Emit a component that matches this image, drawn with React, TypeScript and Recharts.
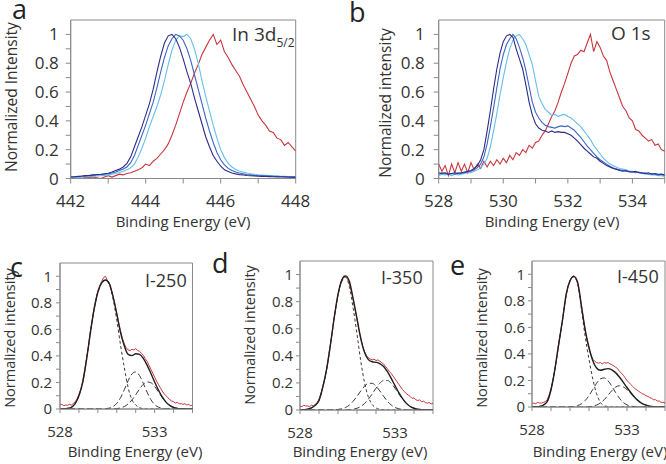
import React from 'react';
import { LineChart, Line, XAxis, YAxis, ReferenceArea } from 'recharts';

const W = 666;
const H = 464;
const FONT = '"Open Sans", "Noto Sans", sans-serif';
const TEXT = '#333';
const AXIS = '#8a8a8a';

// panel a: In 3d5/2, binding energy grid (eV)
const inEnergy = [
  442.0, 442.1, 442.2, 442.3, 442.4, 442.5, 442.6, 442.7, 442.8, 442.9,
  443.0, 443.1, 443.2, 443.3, 443.4, 443.5, 443.6, 443.7, 443.8, 443.9,
  444.0, 444.1, 444.2, 444.3, 444.4, 444.5, 444.6, 444.7, 444.8, 444.9,
  445.0, 445.1, 445.2, 445.3, 445.4, 445.5, 445.6, 445.7, 445.8, 445.9,
  446.0, 446.1, 446.2, 446.3, 446.4, 446.5, 446.6, 446.7, 446.8, 446.9,
  447.0, 447.1, 447.2, 447.3, 447.4, 447.5, 447.6, 447.7, 447.8, 447.9,
  448.0,
];
const inNavy = [
  0.01, 0.012, 0.015, 0.017, 0.02, 0.022, 0.025, 0.028, 0.03, 0.033,
  0.037, 0.045, 0.055, 0.065, 0.08, 0.105, 0.15, 0.22, 0.29, 0.36,
  0.44, 0.52, 0.62, 0.74, 0.85, 0.94, 0.99, 1.0, 0.97, 0.91,
  0.83, 0.74, 0.66, 0.56, 0.47, 0.38, 0.29, 0.22, 0.16, 0.12,
  0.085, 0.06, 0.048, 0.038, 0.032, 0.027, 0.024, 0.021, 0.019, 0.017,
  0.016, 0.015, 0.014, 0.013, 0.012, 0.011, 0.01, 0.01, 0.009, 0.009,
  0.008,
];
const inBlue = [
  0.012, 0.012, 0.014, 0.016, 0.018, 0.02, 0.022, 0.024, 0.027, 0.03,
  0.033, 0.038, 0.045, 0.055, 0.066, 0.08, 0.11, 0.16, 0.23, 0.3,
  0.37, 0.45, 0.53, 0.63, 0.74, 0.84, 0.92, 0.97, 1.0, 0.99,
  0.96, 0.9, 0.82, 0.72, 0.62, 0.52, 0.42, 0.33, 0.25, 0.18,
  0.13, 0.095, 0.07, 0.055, 0.045, 0.038, 0.032, 0.028, 0.025, 0.022,
  0.02, 0.019, 0.018, 0.017, 0.016, 0.015, 0.014, 0.013, 0.012, 0.011,
  0.01,
];
const inSky = [
  0.005, 0.007, 0.008, 0.01, 0.012, 0.013, 0.015, 0.017, 0.019, 0.022,
  0.025, 0.03, 0.035, 0.042, 0.05, 0.06, 0.075, 0.1, 0.15, 0.21,
  0.28, 0.36, 0.43, 0.5, 0.58, 0.68, 0.79, 0.89, 0.96, 0.99,
  0.985, 1.0, 0.97, 0.9, 0.8, 0.68, 0.57, 0.47, 0.37, 0.28,
  0.2, 0.145, 0.105, 0.08, 0.063, 0.052, 0.044, 0.038, 0.033, 0.029,
  0.026, 0.024, 0.022, 0.02, 0.018, 0.017, 0.016, 0.015, 0.014, 0.013,
  0.012,
];
const inRed = [
  0.01, 0.005, 0.01, 0.0, 0.01, 0.005, 0.01, 0.005, 0.0, 0.01,
  0.02, 0.01, 0.02, 0.03, 0.025, 0.035, 0.04, 0.05, 0.06, 0.075,
  0.1, 0.09, 0.12, 0.14, 0.17, 0.2, 0.24, 0.3, 0.37, 0.45,
  0.53, 0.6, 0.66, 0.73, 0.79, 0.86, 0.91, 0.96, 1.0, 0.93,
  0.96, 0.88, 0.84, 0.79, 0.75, 0.71, 0.65, 0.6, 0.55, 0.5,
  0.44, 0.4, 0.37, 0.33, 0.32, 0.28, 0.27, 0.23, 0.25, 0.22,
  0.19,
];

// O 1s grid (panel b and raw scans in c-e)
const oEnergy = [
  528.0, 528.1, 528.2, 528.3, 528.4, 528.5, 528.6, 528.7, 528.8, 528.9,
  529.0, 529.1, 529.2, 529.3, 529.4, 529.5, 529.6, 529.7, 529.8, 529.9,
  530.0, 530.1, 530.2, 530.3, 530.4, 530.5, 530.6, 530.7, 530.8, 530.9,
  531.0, 531.1, 531.2, 531.3, 531.4, 531.5, 531.6, 531.7, 531.8, 531.9,
  532.0, 532.1, 532.2, 532.3, 532.4, 532.5, 532.6, 532.7, 532.8, 532.9,
  533.0, 533.1, 533.2, 533.3, 533.4, 533.5, 533.6, 533.7, 533.8, 533.9,
  534.0, 534.1, 534.2, 534.3, 534.4, 534.5, 534.6, 534.7, 534.8, 534.9,
  535.0,
];
const oNavy = [
  0.04, 0.035, 0.04, 0.03, 0.035, 0.04, 0.035, 0.04, 0.045, 0.05,
  0.055, 0.07, 0.09, 0.13, 0.2, 0.33, 0.47, 0.62, 0.76, 0.87,
  0.95, 0.99, 1.0, 0.98, 0.9, 0.83, 0.76, 0.65, 0.53, 0.44,
  0.38, 0.35, 0.335, 0.33, 0.32, 0.33, 0.32, 0.325, 0.32, 0.32,
  0.31, 0.3, 0.28, 0.26, 0.235, 0.21, 0.19, 0.17, 0.15, 0.14,
  0.12, 0.105, 0.09, 0.08, 0.07, 0.065, 0.055, 0.05, 0.055, 0.045,
  0.045, 0.05, 0.04, 0.04, 0.035, 0.04, 0.03, 0.035, 0.03, 0.03,
  0.025,
];
const oBlue = [
  0.03, 0.04, 0.035, 0.03, 0.035, 0.03, 0.04, 0.035, 0.04, 0.045,
  0.05, 0.06, 0.075, 0.1, 0.15, 0.24, 0.36, 0.49, 0.63, 0.76,
  0.86, 0.93, 0.97, 1.0, 0.97, 0.91, 0.84, 0.75, 0.64, 0.53,
  0.46, 0.42, 0.39, 0.37, 0.36, 0.355, 0.35, 0.36, 0.365, 0.36,
  0.365, 0.35, 0.335, 0.31, 0.285, 0.255, 0.225, 0.2, 0.175, 0.15,
  0.13, 0.115, 0.1, 0.085, 0.075, 0.065, 0.06, 0.055, 0.05, 0.05,
  0.045, 0.04, 0.045, 0.035, 0.04, 0.03, 0.035, 0.03, 0.025, 0.03,
  0.02,
];
const oSky = [
  0.02, 0.03, 0.025, 0.03, 0.02, 0.03, 0.025, 0.03, 0.035, 0.04,
  0.04, 0.05, 0.06, 0.075, 0.1, 0.14, 0.22, 0.33, 0.45, 0.58,
  0.7, 0.81, 0.9, 0.96, 0.99, 1.0, 0.97, 0.93, 0.86, 0.79,
  0.68, 0.57, 0.52, 0.48, 0.46, 0.44, 0.445, 0.43, 0.44, 0.445,
  0.43, 0.42, 0.4, 0.38, 0.36, 0.33, 0.3, 0.27, 0.23, 0.2,
  0.17, 0.14, 0.12, 0.1, 0.09, 0.08, 0.07, 0.065, 0.06, 0.05,
  0.05, 0.045, 0.04, 0.035, 0.03, 0.03, 0.025, 0.025, 0.02, 0.02,
  0.015,
];
const oRed = [
  0.1, 0.05, 0.09, 0.02, 0.1, 0.04, 0.11, 0.05, 0.1, 0.04,
  0.11, 0.06, 0.1, 0.07, 0.12, 0.08, 0.12, 0.09, 0.13, 0.1,
  0.14, 0.11, 0.16, 0.13, 0.18, 0.16, 0.2, 0.18, 0.23, 0.21,
  0.25, 0.26, 0.3, 0.33, 0.38, 0.43, 0.47, 0.53, 0.6, 0.66,
  0.73, 0.8, 0.85, 0.86, 0.89, 0.88, 0.94, 1.0, 0.88, 0.95,
  0.91, 0.85, 0.82, 0.74, 0.68, 0.62, 0.56, 0.5, 0.47, 0.42,
  0.4, 0.34, 0.33, 0.3, 0.28, 0.26, 0.27, 0.23, 0.24, 0.2,
  0.19,
];

// raw O 1s scans for I-250 / I-350 / I-450
const raw250 = [
  0.03, 0.035, 0.025, 0.03, 0.028, 0.035, 0.03, 0.04, 0.055, 0.075,
  0.11, 0.15, 0.21, 0.29, 0.38, 0.47, 0.58, 0.67, 0.76, 0.83,
  0.89, 0.93, 0.96, 0.99, 1.0, 0.97, 0.95, 0.9, 0.85, 0.79,
  0.72, 0.65, 0.59, 0.53, 0.49, 0.46, 0.445, 0.44, 0.45, 0.445,
  0.455, 0.44, 0.435, 0.42, 0.405, 0.38, 0.36, 0.33, 0.3, 0.27,
  0.24, 0.21, 0.185, 0.16, 0.135, 0.115, 0.1, 0.085, 0.07, 0.06,
  0.055, 0.045, 0.05, 0.04, 0.04, 0.035, 0.04, 0.03, 0.035, 0.025,
  0.03,
];
const raw350 = [
  0.03, 0.025, 0.035, 0.03, 0.03, 0.025, 0.035, 0.03, 0.04, 0.055,
  0.08, 0.12, 0.17, 0.23, 0.3, 0.39, 0.48, 0.58, 0.68, 0.77,
  0.85, 0.91, 0.96, 0.99, 0.985, 0.97, 0.93, 0.88, 0.81, 0.74,
  0.67, 0.59, 0.53, 0.47, 0.43, 0.4, 0.385, 0.375, 0.37, 0.375,
  0.365, 0.37, 0.36, 0.35, 0.34, 0.32, 0.305, 0.285, 0.27, 0.25,
  0.23, 0.21, 0.19, 0.17, 0.15, 0.135, 0.12, 0.11, 0.1, 0.085,
  0.09, 0.075, 0.07, 0.075, 0.06, 0.065, 0.055, 0.05, 0.055, 0.045,
  0.05,
];
const raw450 = [
  0.025, 0.03, 0.025, 0.035, 0.03, 0.03, 0.035, 0.04, 0.055, 0.09,
  0.14, 0.2, 0.28, 0.37, 0.46, 0.56, 0.65, 0.75, 0.84, 0.91,
  0.95, 0.98, 0.99, 0.97, 0.93, 0.85, 0.76, 0.67, 0.58, 0.5,
  0.44, 0.39, 0.36, 0.345, 0.335, 0.33, 0.335, 0.325, 0.335, 0.33,
  0.335, 0.325, 0.32, 0.31, 0.3, 0.29, 0.27, 0.255, 0.24, 0.22,
  0.2, 0.185, 0.17, 0.155, 0.14, 0.13, 0.12, 0.11, 0.1, 0.095,
  0.085, 0.08, 0.07, 0.065, 0.055, 0.055, 0.045, 0.045, 0.035, 0.035,
  0.03,
];

// fitted envelope and components (coarser grid)
const fitEnergy = [
  528.0, 528.2, 528.4, 528.6, 528.8, 529.0, 529.2, 529.4, 529.6, 529.8,
  530.0, 530.2, 530.4, 530.6, 530.8, 531.0, 531.2, 531.4, 531.6, 531.8,
  532.0, 532.2, 532.4, 532.6, 532.8, 533.0, 533.2, 533.4, 533.6, 533.8,
  534.0, 534.2, 534.4, 534.6, 534.8, 535.0,
];
const fit250 = [
  0, 0.002, 0.005, 0.012, 0.04, 0.1, 0.2, 0.37, 0.57, 0.75,
  0.88, 0.95, 0.972, 0.947, 0.849, 0.716, 0.573, 0.475, 0.411, 0.402,
  0.416, 0.412, 0.382, 0.331, 0.269, 0.204, 0.143, 0.091, 0.052, 0.027,
  0.012, 0.005, 0.002, 0, 0, 0,
];
const lattice250 = [
  0, 0.002, 0.005, 0.012, 0.04, 0.1, 0.2, 0.37, 0.57, 0.75,
  0.88, 0.95, 0.97, 0.94, 0.83, 0.67, 0.48, 0.31, 0.16, 0.07,
  0.03, 0.01, 0.003, 0, 0, 0, 0, 0, 0, 0,
  0, 0, 0, 0, 0, 0,
];
const vacancy250 = [
  0, 0, 0, 0, 0, 0, 0, 0, 0, 0,
  0, 0, 0.002, 0.007, 0.018, 0.043, 0.085, 0.146, 0.213, 0.264,
  0.279, 0.252, 0.193, 0.127, 0.071, 0.034, 0.014, 0.005, 0.001, 0,
  0, 0, 0, 0, 0, 0,
];
const hydroxyl250 = [
  0, 0, 0, 0, 0, 0, 0, 0, 0, 0,
  0, 0, 0, 0, 0.001, 0.003, 0.008, 0.019, 0.038, 0.068,
  0.107, 0.15, 0.186, 0.204, 0.198, 0.17, 0.129, 0.086, 0.051, 0.027,
  0.012, 0.005, 0.002, 0, 0, 0,
];
const fit350 = [
  0, 0.002, 0.006, 0.015, 0.035, 0.07, 0.17, 0.3, 0.48, 0.681,
  0.854, 0.959, 0.99, 0.949, 0.82, 0.674, 0.527, 0.424, 0.372, 0.356,
  0.352, 0.343, 0.321, 0.283, 0.234, 0.18, 0.128, 0.084, 0.049, 0.026,
  0.013, 0.006, 0.002, 0, 0, 0,
];
const lattice350 = [
  0, 0.002, 0.006, 0.015, 0.035, 0.07, 0.17, 0.3, 0.48, 0.68,
  0.85, 0.95, 0.98, 0.91, 0.75, 0.56, 0.36, 0.2, 0.095, 0.04,
  0.015, 0.005, 0.002, 0, 0, 0, 0, 0, 0, 0,
  0, 0, 0, 0, 0, 0,
];
const vacancy350 = [
  0, 0, 0, 0, 0, 0, 0, 0, 0, 0.001,
  0.004, 0.009, 0.019, 0.037, 0.065, 0.101, 0.141, 0.176, 0.197, 0.197,
  0.176, 0.141, 0.101, 0.065, 0.037, 0.019, 0.009, 0.004, 0.001, 0,
  0, 0, 0, 0, 0, 0,
];
const hydroxyl350 = [
  0, 0, 0, 0, 0, 0, 0, 0, 0, 0,
  0, 0, 0, 0.002, 0.005, 0.013, 0.026, 0.048, 0.08, 0.119,
  0.161, 0.197, 0.218, 0.218, 0.197, 0.161, 0.119, 0.08, 0.048, 0.026,
  0.013, 0.006, 0.002, 0, 0, 0,
];
const fit450 = [
  0, 0.002, 0.005, 0.015, 0.04, 0.13, 0.28, 0.47, 0.65, 0.85,
  0.951, 0.984, 0.941, 0.764, 0.579, 0.448, 0.349, 0.294, 0.277, 0.284,
  0.289, 0.28, 0.259, 0.226, 0.187, 0.147, 0.109, 0.074, 0.046, 0.026,
  0.014, 0.007, 0.003, 0.001, 0, 0,
];
const lattice450 = [
  0, 0.002, 0.005, 0.015, 0.04, 0.13, 0.28, 0.47, 0.65, 0.85,
  0.95, 0.98, 0.93, 0.74, 0.53, 0.36, 0.21, 0.1, 0.035, 0.01,
  0.003, 0, 0, 0, 0, 0, 0, 0, 0, 0,
  0, 0, 0, 0, 0, 0,
];
const vacancy450 = [
  0, 0, 0, 0, 0, 0, 0, 0, 0, 0,
  0.001, 0.004, 0.011, 0.024, 0.049, 0.086, 0.133, 0.179, 0.212, 0.219,
  0.198, 0.157, 0.109, 0.066, 0.035, 0.016, 0.007, 0.002, 0, 0,
  0, 0, 0, 0, 0, 0,
];
const hydroxyl450 = [
  0, 0, 0, 0, 0, 0, 0, 0, 0, 0,
  0, 0, 0, 0, 0, 0.002, 0.006, 0.015, 0.03, 0.055,
  0.088, 0.123, 0.15, 0.16, 0.152, 0.131, 0.102, 0.072, 0.046, 0.026,
  0.014, 0.007, 0.003, 0.001, 0, 0,
];

// axis ticks
const normTicks = [0, 0.1, 0.2, 0.3, 0.4, 0.5, 0.6, 0.7, 0.8, 0.9, 1.0];
const inTicks = [442, 443, 444, 445, 446, 447, 448];
const inTickLabels = [442, 444, 446, 448];
const oTicks = [528, 529, 530, 531, 532, 533, 534, 535];
const oTickLabels = [528, 530, 532, 534];
const fitTickLabels = [528, 533];

const NAVY = '#2d2b88';
const BLUE = '#3d66c2';
const SKY = '#66bfea';
const RED = '#c9363d';
const FIT = '#1f1f1f';
const COMP = '#3a3a3a';

type Row = { x: number; y: number };
const toRows = (xs: number[], ys: number[]): Row[] =>
  xs.map((x, i) => ({ x, y: ys[i] }));

const normLabel = (v: number) => {
  const t = Math.round(v * 10);
  if (t % 2 !== 0) return '';
  if (t === 0) return '0';
  if (t === 10) return '1';
  return (t / 10).toFixed(1);
};

interface Series {
  xs: number[];
  ys: number[];
  color: string;
  width: number;
  dash?: string;
  smooth?: boolean;
}

interface PanelProps {
  box: { left: number; top: number; right: number; bottom: number };
  xDomain: [number, number];
  xTicks: number[];
  xLabels: number[];
  series: Series[];
  fontSize: number;
  tickLen: number;
  xGap: number;
  yGap: number;
}

const Panel: React.FC<PanelProps> = ({ box, xDomain, xTicks, xLabels, series, fontSize, tickLen, xGap, yGap }) => {
  const yW = 40;
  const xH = 30;
  const margin = {
    top: box.top,
    left: box.left - yW,
    right: W - box.right,
    bottom: H - box.bottom - xH,
  };
  return (
    <div style={{ position: 'absolute', left: 0, top: 0 }}>
      <LineChart width={W} height={H} margin={margin}>
        <XAxis
          type="number"
          dataKey="x"
          domain={xDomain}
          ticks={xTicks}
          interval={0}
          allowDataOverflow
          height={xH}
          tickSize={tickLen}
          tickMargin={xGap}
          stroke={AXIS}
          tick={{ fill: TEXT, fontSize }}
          tickFormatter={(v: number) => (xLabels.includes(v) ? String(v) : '')}
        />
        <YAxis
          type="number"
          domain={[0, 1.1]}
          ticks={normTicks}
          interval={0}
          allowDataOverflow
          width={yW}
          tickSize={tickLen}
          tickMargin={yGap}
          stroke={AXIS}
          tick={{ fill: TEXT, fontSize }}
          tickFormatter={normLabel}
        />
        <ReferenceArea
          x1={xDomain[0]}
          x2={xDomain[1]}
          y1={0}
          y2={1.1}
          fill="none"
          stroke={AXIS}
          strokeWidth={1}
        />
        {series.map((s, i) => (
          <Line
            key={i}
            data={toRows(s.xs, s.ys)}
            dataKey="y"
            type={s.smooth ? 'monotone' : 'linear'}
            stroke={s.color}
            strokeWidth={s.width}
            strokeDasharray={s.dash}
            dot={false}
            activeDot={false}
            isAnimationActive={false}
          />
        ))}
      </LineChart>
    </div>
  );
};

const fitSeries = (raw: number[], fit: number[], c1: number[], c2: number[], c3: number[]): Series[] => [
  { xs: fitEnergy, ys: c1, color: COMP, width: 1, dash: '3 2.5', smooth: true },
  { xs: fitEnergy, ys: c2, color: COMP, width: 1, dash: '6 3', smooth: true },
  { xs: fitEnergy, ys: c3, color: COMP, width: 1, dash: '6 3', smooth: true },
  { xs: oEnergy, ys: raw, color: RED, width: 1 },
  { xs: fitEnergy, ys: fit, color: FIT, width: 1.4, smooth: true },
];

const topSeries = (xs: number[], navy: number[], blue: number[], sky: number[], red: number[]): Series[] => [
  { xs, ys: red, color: RED, width: 1.1 },
  { xs, ys: sky, color: SKY, width: 1.1 },
  { xs, ys: blue, color: BLUE, width: 1.1 },
  { xs, ys: navy, color: NAVY, width: 1.1 },
];

const YTitle: React.FC<{ x: number; y: number; size: number; text: string }> = ({ x, y, size, text }) => (
  <text transform={`translate(${x},${y}) rotate(-90)`} textAnchor="middle" fontSize={size} fill={TEXT}>
    {text}
  </text>
);

// panel letters at the very top edge: html boxes with a tight line height
const TopLetter: React.FC<{ x: number; lineH: number; text: string }> = ({ x, lineH, text }) => (
  <div
    style={{
      position: 'absolute',
      left: x,
      top: 0,
      height: lineH,
      lineHeight: `${lineH}px`,
      fontSize: 27,
      color: '#222',
      fontFamily: FONT,
      pointerEvents: 'none',
    }}
  >
    {text}
  </div>
);

export default function App() {
  return (
    <div
      style={{
        position: 'absolute',
        left: 0,
        top: 0,
        width: W,
        height: H,
        background: '#fff',
        fontFamily: FONT,
        overflow: 'hidden',
      }}
    >
      <Panel
        box={{ left: 70.7, top: 20, right: 295.7, bottom: 178.5 }}
        xDomain={[442, 448]}
        xTicks={inTicks}
        xLabels={inTickLabels}
        series={topSeries(inEnergy, inNavy, inBlue, inSky, inRed)}
        fontSize={17}
        tickLen={5}
        xGap={11}
        yGap={7}
      />
      <Panel
        box={{ left: 438.7, top: 20, right: 664.7, bottom: 178.5 }}
        xDomain={[528, 535]}
        xTicks={oTicks}
        xLabels={oTickLabels}
        series={topSeries(oEnergy, oNavy, oBlue, oSky, oRed)}
        fontSize={17}
        tickLen={5}
        xGap={11}
        yGap={9}
      />
      <Panel
        box={{ left: 60, top: 263, right: 192.5, bottom: 409 }}
        xDomain={[528, 535]}
        xTicks={oTicks}
        xLabels={fitTickLabels}
        series={fitSeries(raw250, fit250, lattice250, vacancy250, hydroxyl250)}
        fontSize={15}
        tickLen={4}
        xGap={13}
        yGap={4}
      />
      <Panel
        box={{ left: 300, top: 261, right: 433, bottom: 410 }}
        xDomain={[528, 535]}
        xTicks={oTicks}
        xLabels={fitTickLabels}
        series={fitSeries(raw350, fit350, lattice350, vacancy350, hydroxyl350)}
        fontSize={15}
        tickLen={4}
        xGap={13}
        yGap={3}
      />
      <Panel
        box={{ left: 532, top: 261, right: 665, bottom: 407 }}
        xDomain={[528, 535]}
        xTicks={oTicks}
        xLabels={fitTickLabels}
        series={fitSeries(raw450, fit450, lattice450, vacancy450, hydroxyl450)}
        fontSize={15}
        tickLen={4}
        xGap={13}
        yGap={3}
      />
      <TopLetter x={12} lineH={17} text="a" />
      <TopLetter x={349} lineH={23} text="b" />
      <svg
        width={W}
        height={H}
        style={{ position: 'absolute', left: 0, top: 0, pointerEvents: 'none', fontFamily: FONT }}
      >
        <text x={10} y={277} fontSize={27} fill="#222">c</text>
        <text x={212} y={273} fontSize={27} fill="#222">d</text>
        <text x={450} y={275} fontSize={27} fill="#222">e</text>

        <text x={232} y={41} fontSize={19} fill={TEXT}>
          In 3d<tspan fontSize={12} dy={6}>5/2</tspan>
        </text>
        <text x={611} y={40} fontSize={19} fill={TEXT}>O 1s</text>
        <text x={145} y={287} fontSize={18} fill={TEXT}>I-250</text>
        <text x={381} y={284} fontSize={18} fill={TEXT}>I-350</text>
        <text x={617} y={283} fontSize={18} fill={TEXT}>I-450</text>

        <text x={183} y={227} fontSize={15} textAnchor="middle" fill={TEXT}>Binding Energy (eV)</text>
        <text x={552} y={227} fontSize={15} textAnchor="middle" fill={TEXT}>Binding Energy (eV)</text>
        <text x={135} y={457} fontSize={15} textAnchor="middle" fill={TEXT}>Binding Energy (eV)</text>
        <text x={360} y={457} fontSize={15} textAnchor="middle" fill={TEXT}>Binding Energy (eV)</text>
        <text x={600} y={457} fontSize={15} textAnchor="middle" fill={TEXT}>Binding Energy (eV)</text>

        <YTitle x={17} y={97} size={15.5} text="Normalized Intensity" />
        <YTitle x={391} y={103} size={15.5} text="Normalized intensity" />
        <YTitle x={15} y={338} size={14.5} text="Normalized intensity" />
        <YTitle x={255} y={335} size={14.5} text="Normalized intensity" />
        <YTitle x={487} y={338} size={14.5} text="Normalized intensity" />
      </svg>
    </div>
  );
}
